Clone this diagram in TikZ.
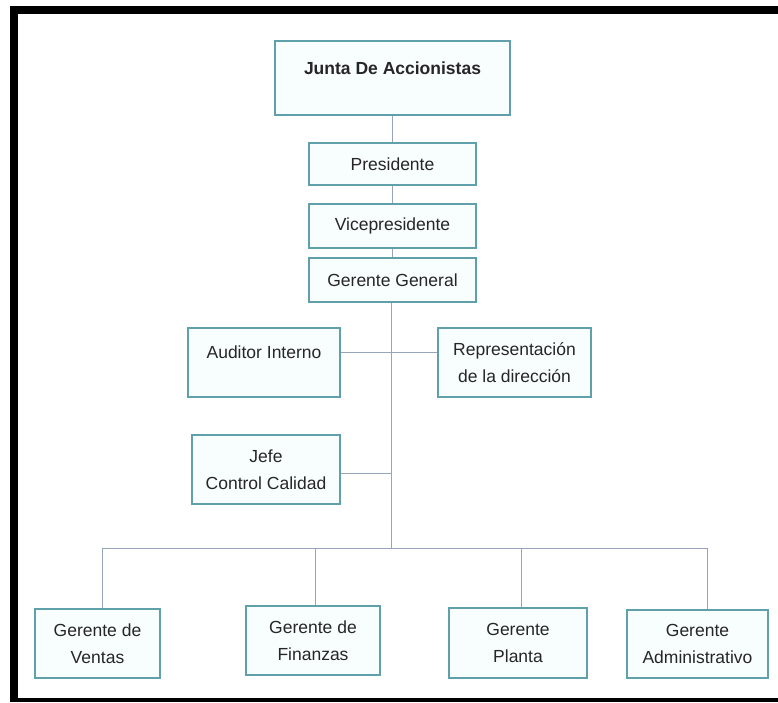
\documentclass[tikz,border=0pt]{standalone}
\usepackage{fontspec}
\setmainfont{Liberation Sans}
\usepackage{tikz}
\usetikzlibrary{calc}
\definecolor{cajaborde}{RGB}{95,160,170}
\definecolor{cajafondo}{RGB}{248,253,253}
\definecolor{linea}{RGB}{150,165,185}

\begin{document}
\begin{tikzpicture}[x=1pt,y=-1pt,
    puesto/.style={draw=cajaborde,line width=1.6pt,fill=cajafondo,inner sep=0pt,
      align=center,text=black!85,font=\fontsize{17.5}{27}\selectfont},
    arriba/.style={puesto,text height=12pt,text depth=20pt},
    enlace/.style={draw=linea,line width=0.9pt}]
\useasboundingbox (0,0) rectangle (778,702);
\fill[black] (10,6) rectangle (778,14);
\fill[black] (10,6) rectangle (18,702);
\fill[black] (10,698) rectangle (778,702);
\node[arriba,minimum width=235pt,minimum height=74pt] (junta) at (392.5,78) {\textbf{Junta De Accionistas}};
\node[puesto,minimum width=167pt,minimum height=42pt] (presidente) at (392.5,164) {Presidente};
\node[puesto,minimum width=167pt,minimum height=44pt] (vice) at (392.5,226) {Vicepresidente};
\node[puesto,minimum width=167pt,minimum height=44pt] (general) at (392.5,280) {Gerente General};
\node[arriba,minimum width=152pt,minimum height=69pt] (auditor) at (264,362.5) {Auditor Interno};
\node[puesto,minimum width=153pt,minimum height=69pt] (repr) at (514.5,362.5) {Representación\\de la dirección};
\node[puesto,minimum width=148pt,minimum height=69pt] (jefe) at (266,469.5) {Jefe\\Control Calidad};
\node[puesto,minimum width=125pt,minimum height=69pt] (ventas) at (97.5,643.5) {Gerente de\\Ventas};
\node[puesto,minimum width=134pt,minimum height=69pt] (finanzas) at (313,640.5) {Gerente de\\Finanzas};
\node[puesto,minimum width=138pt,minimum height=70pt] (planta) at (518,643) {Gerente\\Planta};
\node[puesto,minimum width=141pt,minimum height=68pt] (admin) at (697.5,644) {Gerente\\Administrativo};
\coordinate (bus) at (391,548);
\draw[enlace] (junta) -- (presidente) -- (vice) -- (general);
\draw[enlace] (general.south -| bus) -- (bus);
\draw[enlace] ($(auditor.east)+(0,-10.5)$) -- ($(repr.west)+(0,-10.5)$);
\draw[enlace] ($(jefe.east)+(0,3.5)$) -- ($(jefe.east -| bus)+(0,3.5)$);
\draw[enlace] ([xshift=4.5pt]ventas.north) |- (bus) -| ([xshift=9.5pt]admin.north);
\draw[enlace] ([xshift=2pt]finanzas.north) -- ([xshift=2pt]finanzas.north |- bus);
\draw[enlace] ([xshift=3pt]planta.north) -- ([xshift=3pt]planta.north |- bus);
\end{tikzpicture}
\end{document}
